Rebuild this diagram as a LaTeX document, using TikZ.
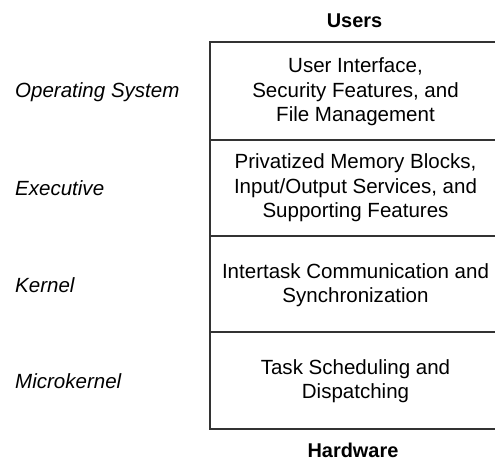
\documentclass[tikz,border=0pt]{standalone}
\usepackage{fontspec}
\setmainfont{Liberation Sans}
\begin{document}
\begin{tikzpicture}[x=1bp,y=-1bp,
  layer/.style={draw=black!80, line width=1.6bp},
  boxtext/.style={align=center, font=\fontsize{20.6pt}{24.6pt}\selectfont, inner sep=0pt},
  sidelabel/.style={anchor=west, font=\fontsize{20.6pt}{24.6pt}\selectfont\itshape, inner sep=0pt},
  endlabel/.style={font=\fontsize{20pt}{24pt}\selectfont\bfseries, inner sep=0pt}]
\useasboundingbox (0,0) rectangle (495,461);
\clip (0,0) rectangle (495,461);
% layers
\draw[layer] (210,42) rectangle (520,140);
\draw[layer] (210,140) rectangle (520,236);
\draw[layer] (210,236) rectangle (520,332);
\draw[layer] (210,332) rectangle (520,429);
% box texts
\node[boxtext] (os) at (355.5,92) {User Interface,\\Security Features, and\\File Management};
\node[boxtext] (ex) at (355.5,188) {Privatized Memory Blocks,\\Input/Output Services, and\\Supporting Features};
\node[boxtext] (ke) at (355.5,285) {Intertask Communication and\\Synchronization};
\node[boxtext] (mk) at (355.5,381) {Task Scheduling and\\Dispatching};
% side labels
\node[sidelabel] (los) at (15,92) {Operating System};
\node[sidelabel] (lex) at (15,188) {Executive};
\node[sidelabel] (lke) at (15,285) {Kernel};
\node[sidelabel] (lmk) at (15,381) {Microkernel};
% ends
\node[endlabel] (users) at (354.5,21) {Users};
\node[endlabel] (hw) at (353,450) {Hardware};
\end{tikzpicture}
\end{document}
